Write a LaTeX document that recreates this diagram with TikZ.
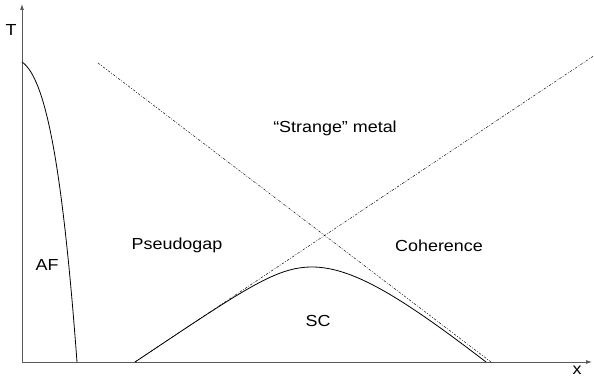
\documentclass[tikz,border=0pt]{standalone}
\usepackage{fontspec}
\setmainfont{Liberation Sans}
\usetikzlibrary{arrows.meta}
\newcommand{\wid}[1]{\scalebox{1.12}[1]{#1}}
\begin{document}
\begin{tikzpicture}[x=1pt,y=-1pt,
  axis/.style={draw=black!65,line width=0.8pt,-{Latex[length=6pt,width=4pt]}},
  phase/.style={draw=black,line width=0.8pt},
  crossover/.style={draw=black,line width=0.45pt,dash pattern=on 2.5pt off 1.5pt on 0.8pt off 1.5pt},
  lbl/.style={font=\fontsize{16}{18}\selectfont,inner sep=0pt}]
\useasboundingbox (0,0) rectangle (594,379);
% axes
\coordinate (O) at (22,362);
\coordinate (Ttop) at (22,4);
\coordinate (Xend) at (592,362);
\draw[axis] (O) -- (Ttop);
\draw[axis] (O) -- (Xend);
\node[lbl] (T) at (11,30) {\wid{T}};
\node[lbl] (X) at (577,370) {\wid{x}};
% crossover lines
\coordinate (L1a) at (98,63);
\coordinate (L1b) at (491,362);
\coordinate (L2a) at (135,362);
\coordinate (L2b) at (594,55.7);
\draw[crossover] (L1a) -- (L1b);
\draw[crossover] (L2a) -- (L2b);
% AF
\coordinate (AFtop) at (22,62);
\coordinate (AFbot) at (77,362);
\draw[phase] (AFtop) .. controls (45,78) and (62,160) .. (AFbot);
% SC dome
\coordinate (SCl) at (135,362);
\coordinate (SCpk) at (312,267);
\coordinate (SCr) at (486,362);
\draw[phase] (SCl) .. controls (245,288.6) and (276,267) .. (SCpk)
  .. controls (352,267) and (400,296) .. (SCr);
% labels
\node[lbl] (AF) at (47,265) {\wid{AF}};
\node[lbl] (PG) at (177,245) {\wid{Pseudogap}};
\node[lbl] (CO) at (439,246) {\wid{Coherence}};
\node[lbl] (SC) at (318,321) {\wid{SC}};
\node[lbl] (SM) at (335,128) {\wid{“Strange” metal}};
\end{tikzpicture}
\end{document}
